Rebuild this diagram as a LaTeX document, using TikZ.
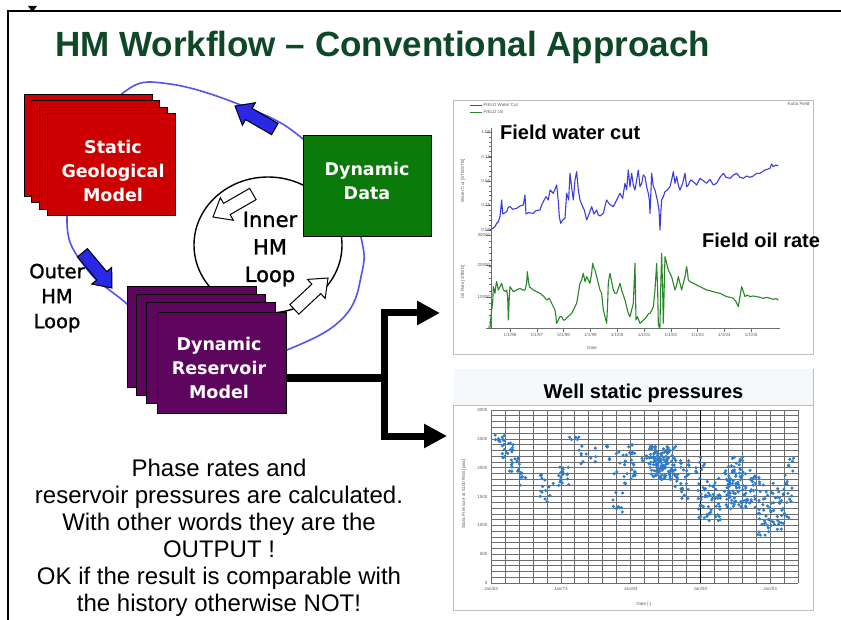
\documentclass[tikz,border=0pt]{standalone}
\usepackage{fontspec}
\setmainfont{Liberation Sans}
\newfontfamily\verd{DejaVu Sans}
\newfontfamily\verdmed[FakeBold=1.3]{DejaVu Sans}
\usetikzlibrary{arrows.meta}

\definecolor{titlegreen}{RGB}{14,72,38}
\definecolor{geored}{RGB}{204,0,0}
\definecolor{datagreen}{RGB}{10,122,10}
\definecolor{respurple}{RGB}{94,6,94}
\definecolor{loopblue}{RGB}{84,84,235}
\definecolor{arrowblue}{RGB}{40,40,230}
\definecolor{wcblue}{RGB}{60,60,225}
\definecolor{oilgreen}{RGB}{40,135,40}
\definecolor{dotblue}{RGB}{45,125,205}
\definecolor{panelgrey}{RGB}{190,190,190}
\definecolor{gridgrey}{RGB}{110,110,110}
\definecolor{ticktext}{RGB}{95,95,95}
\definecolor{bandfill}{RGB}{246,249,252}

\tikzset{
  modelbox/.style={draw=black, line width=0.8pt, minimum width=128pt, minimum height=102pt,
    anchor=north west, inner sep=0pt, outer sep=0pt},
  boxlabel/.style={text=white, align=center, inner sep=0pt,
    font=\verd\bfseries\fontsize{17.5}{24}\selectfont},
  looplabel/.style={align=center, inner sep=0pt},
  blockarrow/.style={draw=black, line width=1pt, line join=miter},
  tinytext/.style={font=\fontsize{4.5}{5}\selectfont, text=ticktext, inner sep=0.5pt},
  charttitle/.style={font=\bfseries\fontsize{20}{24}\selectfont, inner sep=0pt},
  panel/.style={draw=panelgrey, line width=0.8pt, fill=white, anchor=north west,
    inner sep=0pt, outer sep=0pt},
  flowline/.style={line width=7pt, line join=miter},
  flowtip/.style={flowline, {Triangle[length=23pt,width=23pt]}-{Triangle[length=23pt,width=23pt]}},
  dataline/.style={line width=1.1pt, line join=round},
}

% block arrow with its tip at (#1,#2), pointing at angle #3, filled with #4
\newcommand{\blockarr}[4]{%
  \begin{scope}[shift={(#1,#2)}, rotate=#3]
    \filldraw[blockarrow, fill=#4] (0,0) -- (-16,-13) -- (-16,-6.5) -- (-46,-6.5)
      -- (-46,6.5) -- (-16,6.5) -- (-16,13) -- cycle;
  \end{scope}}

\begin{document}
\begin{tikzpicture}[x=1pt, y=-1pt]
\useasboundingbox (0,0) rectangle (841,620);
\fill[white] (0,0) rectangle (841,620);

% slide frame
\draw[black, line width=2pt] (841,11) -- (8,11) -- (8,620);
\fill[black] (28,6) -- (37,6) -- (34,10) -- (31,10) -- cycle;

% title
\node[anchor=base west, text=titlegreen, inner sep=0pt,
  font=\bfseries\fontsize{35}{40}\selectfont] (title) at (55,57)
  {HM Workflow \textendash{} Conventional Approach};

% outer and inner loops
\draw[loopblue, line width=1.6pt] plot[smooth cycle, tension=0.7] coordinates
  {(67,222) (84,150) (123,93) (170,84) (253,110) (303,139) (345,185) (361,237)
   (362,272) (343,318) (287,350) (230,366) (160,335) (127,304) (86,268)};
\draw[black, line width=1.4pt] (268,245) ellipse [x radius=74pt, y radius=68pt];

% static geological model stack
\node[modelbox, fill=geored] (geoA) at (24,94) {};
\node[modelbox, fill=geored] (geoB) at (31.5,100.5) {};
\node[modelbox, fill=geored] (geoC) at (39,107) {};
\node[modelbox, fill=geored] (geo) at (47,113) {};
\node[boxlabel] (geotext) at (113,171) {Static\\Geological\\Model};

% dynamic data
\node[modelbox, fill=datagreen, minimum height=101pt] (dyn) at (303,135) {};
\node[boxlabel] (dyntext) at (367,181) {Dynamic\\Data};

% dynamic reservoir model stack
\node[modelbox, fill=respurple, minimum width=129pt, minimum height=101pt] (resA) at (127,286) {};
\node[modelbox, fill=respurple, minimum width=129pt, minimum height=101pt] (resB) at (136,294) {};
\node[modelbox, fill=respurple, minimum width=129pt, minimum height=101pt] (resC) at (146,302) {};
\node[modelbox, fill=respurple, minimum width=129pt, minimum height=101pt] (res) at (157,312) {};
\node[boxlabel] (restext) at (219,368) {Dynamic\\Reservoir\\Model};

% loop direction arrows
\blockarr{235}{106}{150}{arrowblue}
\blockarr{112}{288}{-50}{arrowblue}
\blockarr{213}{217}{210}{white}
\blockarr{328}{278}{43}{white}

% loop labels
\node[looplabel, font=\verdmed\fontsize{21}{27.5}\selectfont] (innerlbl) at (270,249) {Inner\\HM\\Loop};
\node[looplabel, font=\verdmed\fontsize{19.5}{25}\selectfont] (outerlbl) at (57,298) {Outer\\HM\\Loop};

% output connector
\coordinate (split) at (384,378);
\coordinate (splittop) at (384,313);
\coordinate (splitbot) at (384,436);
\coordinate (tiptop) at (440,313);
\coordinate (tipbot) at (447,436);
\draw[flowline] (res.east |- split) -- (split);
\draw[flowtip] (tiptop) -- (splittop) -- (splitbot) -- (tipbot);

% chart panels
\node[panel, minimum width=360pt, minimum height=254pt] (ratepanel) at (453,100) {};
\node[panel, minimum width=360pt, minimum height=241pt] (prespanel) at (453,369) {};

% ---------- rate chart ----------
\draw[wcblue, line width=0.8pt] (470,105) -- (482,105);
\node[tinytext, anchor=west] (legwc) at (483,105) {FIELD Water Cut};
\draw[oilgreen, line width=0.8pt] (470,112) -- (482,112);
\node[tinytext, anchor=west] (legoil) at (483,112) {FIELD Oil};
\node[tinytext, anchor=east] (fieldname) at (810,104) {Kutta Field};

\draw[gridgrey, line width=0.5pt] (491,128) -- (491,328) -- (780,328);
\foreach \k in {0,...,20} \draw[gridgrey, line width=0.4pt] (489,132+\k*4.9) -- (491,132+\k*4.9);
\foreach \k in {0,...,15} \draw[gridgrey, line width=0.4pt] (489,235+\k*6.2) -- (491,235+\k*6.2);
\foreach \y/\t in {132/1.00, 157/0.75, 181/0.50, 205/0.25, 230/0.00, 235/30000, 265/20000, 297/10000, 328/0}
  \draw[gridgrey, line width=0.5pt] (486,\y) -- (491,\y) node[tinytext, anchor=east] {\t};
\foreach \k/\t in {0/{1/1/96}, 1/{1/1/97}, 2/{5/1/98}, 3/{1/1/99}, 4/{1/1/00},
                   5/{1/1/01}, 6/{1/1/02}, 7/{1/1/03}, 8/{1/1/04}, 9/{1/1/05}}
  \draw[gridgrey, line width=0.5pt] (510+\k*26.8,328) -- (510+\k*26.8,332) node[tinytext, anchor=north] {\t};
\node[tinytext] (ratexlbl) at (592,348) {Date};
\node[tinytext, rotate=90] (wcylbl) at (463,181) {Water Cut [STB/STB]};
\node[tinytext, rotate=90] (oilylbl) at (463,282) {Oil Rate [STB/D]};

\begin{scope}[shift={(440pt,-90pt)}, x=0.3333pt, y=-0.3333pt]
  \draw[wcblue, dataline] plot coordinates {
    (150,420) (158,415) (165,410) (170,400) (175,395) (180,380) (185,330) (188,372)
    (195,368) (200,365) (205,352) (210,350) (218,358) (230,355) (240,348) (250,345)
    (255,315) (258,372) (265,368) (280,370) (288,362) (300,360) (305,345) (310,335)
    (318,320) (325,330) (330,300) (340,310) (350,285) (355,335) (358,380) (362,400)
    (368,390) (375,385) (380,310) (386,330) (390,250) (396,300) (400,330) (405,270)
    (410,245) (415,300) (420,330) (428,350) (433,360) (440,390) (448,370) (455,350)
    (462,372) (470,360) (475,375) (480,378) (490,370) (496,345) (500,330) (508,342)
    (520,350) (530,330) (540,310) (548,325) (555,280) (560,300) (565,240) (570,290)
    (575,250) (580,285) (585,300) (590,270) (595,240) (600,290) (605,280) (610,255)
    (615,260) (620,290) (625,310) (628,330) (630,370) (633,300) (635,250) (640,290)
    (645,300) (652,330) (657,360) (660,420) (663,360) (665,330) (670,320) (675,305)
    (682,300) (690,290) (695,270) (700,245) (705,280) (710,260) (715,285) (720,300)
    (728,280) (735,250) (740,290) (745,285) (752,270) (760,275) (770,285) (780,265)
    (790,272) (800,280) (810,268) (820,285) (830,280) (840,262) (850,250) (858,262)
    (870,265) (880,255) (890,250) (900,262) (910,265) (920,258) (930,262) (940,258)
    (950,250) (960,250) (968,245) (975,240) (982,238) (990,235) (995,222) (1000,230)
    (1008,225) (1015,228)};
  \draw[oilgreen, dataline] plot coordinates {
    (150,715) (152,690) (155,660) (158,640) (160,590) (165,610) (168,585) (170,575)
    (175,600) (180,590) (185,580) (190,600) (198,605) (200,600) (203,620) (205,690)
    (208,620) (210,590) (220,605) (230,600) (240,595) (248,600) (255,600) (260,580)
    (262,545) (265,570) (268,590) (280,600) (290,605) (300,610) (310,618) (320,630)
    (328,625) (335,640) (340,650) (345,660) (348,680) (350,700) (355,690) (360,680)
    (365,680) (370,690) (375,690) (382,682) (390,675) (395,670) (400,660) (405,650)
    (410,640) (415,610) (420,580) (425,570) (430,550) (435,575) (440,560) (445,570)
    (450,580) (455,550) (458,520) (462,535) (465,540) (470,560) (475,580) (480,600)
    (485,610) (488,640) (490,660) (495,680) (500,700) (503,640) (505,580) (508,560)
    (510,550) (515,575) (520,600) (525,610) (530,610) (535,595) (540,580) (545,600)
    (550,615) (555,630) (560,650) (565,670) (570,680) (575,660) (580,640) (585,520)
    (588,690) (592,680) (600,700) (605,695) (610,690) (615,685) (620,680) (625,672)
    (630,670) (635,662) (640,650) (645,600) (650,520) (653,600) (655,700) (658,715)
    (660,710) (662,600) (665,490) (668,600) (670,700) (672,620) (675,500) (680,520)
    (685,540) (690,550) (695,560) (700,580) (705,600) (710,585) (715,560) (720,580)
    (725,600) (730,580) (735,560) (740,530) (743,550) (745,570) (750,575) (760,580)
    (770,585) (780,590) (790,595) (800,600) (810,602) (820,605) (830,608) (840,610)
    (850,615) (860,620) (870,622) (880,625) (888,635) (895,650) (900,620) (905,590)
    (910,605) (915,620) (922,615) (930,620) (940,618) (950,620) (960,622) (970,625)
    (980,622) (990,625) (1000,628) (1008,626) (1015,630)};
\end{scope}

\node[charttitle, anchor=base west] (wctitle) at (500,140) {Field water cut};
\node[charttitle, anchor=base west] (oiltitle) at (702,248) {Field oil rate};

% ---------- pressure chart ----------
\fill[bandfill] (453.4,369.4) rectangle (812.6,405);
\draw[panelgrey, line width=0.5pt] (453.4,405) -- (812.6,405);
\node[charttitle, anchor=base] (prestitle) at (643.5,399) {Well static pressures};

\foreach \k in {0,...,30}
  \draw[gridgrey, line width=0.55pt] (491,410+\k*5.7667) -- (798,410+\k*5.7667);
\foreach \k in {0,...,22}
  \draw[gridgrey, line width=0.55pt] (491+\k*13.955,410) -- (491+\k*13.955,583);
\draw[black, line width=1.3pt] (700.3,410) -- (700.3,583);
\foreach \k/\t in {0/3000, 5/2500, 10/2000, 15/1500, 20/1000, 25/500, 30/0}
  \node[tinytext, anchor=east] at (488,410+\k*5.7667) {\t};
\foreach \k/\t in {0/{Jan/63}, 5/{Jan/73}, 10/{Jan/83}, 15/{Jan/93}, 20/{Jan/03}}
  \node[tinytext, anchor=north] at (491+\k*13.955,587) {\t};
\node[tinytext] (presxlbl) at (644,604) {Date [-]};
\node[tinytext, rotate=90] (presylbl) at (464,494) {Static Pressure at 5100 RSS [psia]};

\pgfmathsetseed{4711}
\foreach \cx/\cy/\sx/\sy/\n in {
    500/440/5/5/10, 508/450/6/8/14, 515/465/6/10/14, 522/478/4/10/8,
    545/488/6/14/14, 561/477/8/10/20, 575/441/6/4/5, 585/455/6/10/8,
    605/455/10/12/8, 620/470/6/20/10, 618/500/5/12/10, 630/460/6/20/24,
    650/455/8/12/20, 663/463/13/17/110, 682/480/7/20/28, 700/470/5/15/10,
    710/500/12/22/55, 742/490/18/20/105, 775/505/18/22/60, 770/528/12/8/14,
    735/465/8/8/14, 790/470/6/12/8}{
  \foreach \j in {1,...,\n}{
    \pgfmathsetmacro\dotx{\cx+\sx*rand}
    \pgfmathsetmacro\doty{\cy+\sy*rand}
    \fill[dotblue] (\dotx,\doty) circle[radius=1.7pt];
  }
}

% explanation text
\node[anchor=north, align=center, inner sep=0pt,
  font=\fontsize{24}{27}\selectfont] (note) at (219,459)
  {Phase rates and\\reservoir pressures are calculated.\\With other words they are the\\
   OUTPUT !\\OK if the result is comparable with\\the history otherwise NOT!};
\end{tikzpicture}
\end{document}
